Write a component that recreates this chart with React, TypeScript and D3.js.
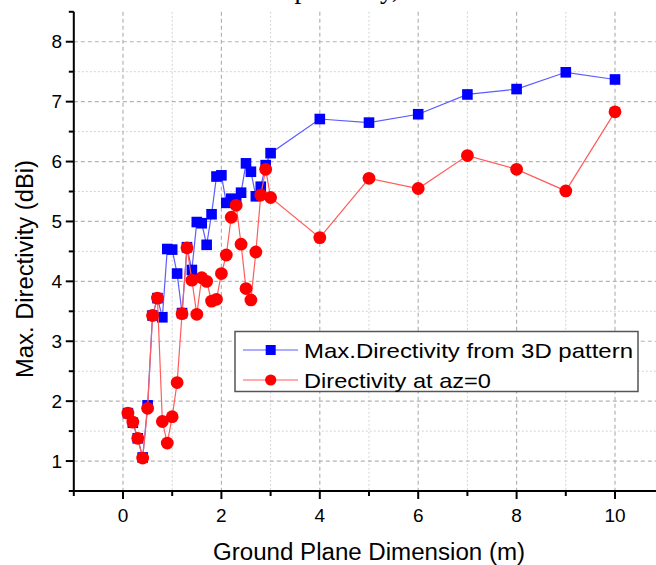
import React from "react";
import * as d3 from "d3";

const xValues = [0.1,0.2,0.3,0.4,0.5,0.6,0.7,0.8,0.9,1.0,1.1,1.2,1.3,1.4,1.5,1.6,1.7,1.8,1.9,2.0,2.1,2.2,2.3,2.4,2.5,2.6,2.7,2.8,2.9,3.0,4,5,6,7,8,9,10];
const maxDirectivity3D = [1.80,1.64,1.38,1.06,1.93,3.43,3.72,3.40,4.54,4.53,4.13,3.47,4.57,4.19,4.99,4.97,4.61,5.12,5.75,5.77,5.31,5.38,5.36,5.48,5.97,5.83,5.42,5.58,5.94,6.14,6.71,6.65,6.79,7.12,7.21,7.49,7.37];
const directivityAz0 = [1.80,1.65,1.38,1.05,1.88,3.43,3.72,1.66,1.30,1.74,2.31,3.46,4.56,4.02,3.45,4.06,4.00,3.67,3.70,4.13,4.44,5.07,5.27,4.62,3.88,3.69,4.49,5.44,5.87,5.40,4.73,5.72,5.55,6.10,5.87,5.51,6.83];

const xMajorTicks = [0,2,4,6,8,10];
const xMinorTicks = [-1,1,3,5,7,9];
const yMajorTicks = [1,2,3,4,5,6,7,8];
const yMinorTicks = [0.5,1.5,2.5,3.5,4.5,5.5,6.5,7.5,8.5];

const seriesNames = ["Max.Directivity from 3D pattern", "Directivity at az=0"];
const xTitle = "Ground Plane Dimension (m)";
const yTitle = "Max. Directivity (dBi)";

const W = 656, H = 565;
const FONT = "'Liberation Sans', Arial, sans-serif";

export default function App() {
  const x = d3.scaleLinear().domain([-1, 11]).range([73.8, 73.8 + 12 * 49.2]);
  const y = d3.scaleLinear().domain([0.5, 8.5]).range([491, 491 - 8 * 59.9]);
  const left = x(-1), bottom = y(0.5), top = y(8.5);

  const blue = xValues.map((v, i) => [v, maxDirectivity3D[i]] as [number, number]);
  const red = xValues.map((v, i) => [v, directivityAz0[i]] as [number, number]);
  const line = d3.line<[number, number]>().x(d => x(d[0])).y(d => y(d[1]));

  const sq = 10.6;
  const lgX = 235, lgY = 331.5, lgW = 403, lgH = 60;

  return (
    <svg width={W} height={H} style={{ position: "absolute", left: 0, top: 0, background: "#fff" }}>
      <style>{`body{margin:0}`}</style>
      <rect width={W} height={H} fill="#fff" />
      <text x={263} y={-2} fontFamily="'Liberation Serif', serif" fontSize={27} fill="#000">respectively,</text>

      {/* grid */}
      {yMinorTicks.filter(t => t > 0.5 && t < 8.5).map(t => (
        <line key={"ym" + t} x1={left} x2={W} y1={y(t)} y2={y(t)} stroke="#d4d4d4" strokeWidth={1} strokeDasharray="2,2" />
      ))}
      {xMinorTicks.filter(t => t > -1).map(t => (
        <line key={"xm" + t} x1={x(t)} x2={x(t)} y1={top} y2={bottom} stroke="#d4d4d4" strokeWidth={1} strokeDasharray="2,2" />
      ))}
      {yMajorTicks.map(t => (
        <line key={"yg" + t} x1={left} x2={W} y1={y(t)} y2={y(t)} stroke="#b4b4b4" strokeWidth={1.2} strokeDasharray="4,3" />
      ))}
      {xMajorTicks.map(t => (
        <line key={"xg" + t} x1={x(t)} x2={x(t)} y1={top} y2={bottom} stroke="#b4b4b4" strokeWidth={1.2} strokeDasharray="4,3" />
      ))}

      {/* axes */}
      <line x1={left} x2={left} y1={top} y2={bottom} stroke="#000" strokeWidth={2} />
      <line x1={left} x2={W} y1={bottom} y2={bottom} stroke="#000" strokeWidth={2} />
      {yMajorTicks.map(t => (
        <g key={"yt" + t}>
          <line x1={left - 8} x2={left} y1={y(t)} y2={y(t)} stroke="#000" strokeWidth={2} />
          <text x={62} y={y(t)} dy="0.35em" textAnchor="end" fontFamily={FONT} fontSize={19} fill="#000">{t}</text>
        </g>
      ))}
      {yMinorTicks.map(t => (
        <line key={"ymt" + t} x1={left - 5} x2={left} y1={y(t)} y2={y(t)} stroke="#000" strokeWidth={2} />
      ))}
      {xMajorTicks.map(t => (
        <g key={"xt" + t}>
          <line x1={x(t)} x2={x(t)} y1={bottom} y2={bottom + 8} stroke="#000" strokeWidth={2} />
          <text x={x(t)} y={522} textAnchor="middle" fontFamily={FONT} fontSize={19} fill="#000">{t}</text>
        </g>
      ))}
      {xMinorTicks.map(t => (
        <line key={"xmt" + t} x1={x(t)} x2={x(t)} y1={bottom} y2={bottom + 5} stroke="#000" strokeWidth={2} />
      ))}

      {/* titles */}
      <text x={369} y={560} textAnchor="middle" fontFamily={FONT} fontSize={23} fill="#000" textLength={312} lengthAdjust="spacingAndGlyphs">{xTitle}</text>
      <text transform={`translate(33,269) rotate(-90)`} textAnchor="middle" fontFamily={FONT} fontSize={23} fill="#000" textLength={218} lengthAdjust="spacingAndGlyphs">{yTitle}</text>

      {/* series */}
      <path d={line(blue) || ""} fill="none" stroke="#5c5cff" strokeWidth={1.2} />
      {blue.map((d, i) => (
        <rect key={"b" + i} x={x(d[0]) - sq / 2} y={y(d[1]) - sq / 2} width={sq} height={sq} fill="#0000ff" />
      ))}
      <path d={line(red) || ""} fill="none" stroke="#ff5c5c" strokeWidth={1.2} />
      {red.map((d, i) => (
        <circle key={"r" + i} cx={x(d[0])} cy={y(d[1])} r={6.4} fill="#ff0000" />
      ))}

      {/* legend */}
      <rect x={lgX} y={lgY} width={lgW} height={lgH} fill="#fff" stroke="#555" strokeWidth={1.5} />
      <line x1={243} x2={298} y1={350} y2={350} stroke="#5c5cff" strokeWidth={1.2} />
      <rect x={270.7 - 5} y={350 - 5} width={10} height={10} fill="#0000ff" />
      <text x={304} y={357.5} fontFamily={FONT} fontSize={21} fill="#000" textLength={329} lengthAdjust="spacingAndGlyphs">{seriesNames[0]}</text>
      <line x1={243} x2={298} y1={380} y2={380} stroke="#ff5c5c" strokeWidth={1.2} />
      <circle cx={270.7} cy={380} r={5.6} fill="#ff0000" />
      <text x={304} y={387.5} fontFamily={FONT} fontSize={21} fill="#000" textLength={187} lengthAdjust="spacingAndGlyphs">{seriesNames[1]}</text>
    </svg>
  );
}
